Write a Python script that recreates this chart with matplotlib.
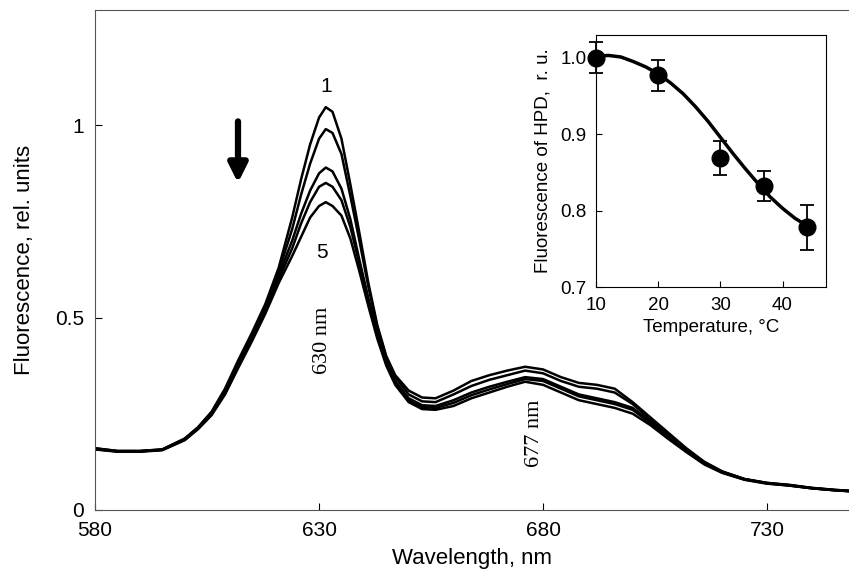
import matplotlib.pyplot as plt
import numpy as np

# emission spectra, 5 temperatures (curve 1 = 10 C ... curve 5 = 44 C)
wl = [580, 585, 590, 595, 600, 603, 606, 609, 612, 615, 618, 621, 624, 626, 628,
      630, 631.5, 633, 635, 637, 639, 641, 643, 645, 647, 650, 653, 656, 660, 664,
      668, 672, 676, 680, 684, 688, 692, 696, 700, 704, 708, 712, 716, 720, 725,
      730, 735, 740, 745, 750]

spec1 = [0.160, 0.153, 0.153, 0.157, 0.185, 0.215, 0.255, 0.315, 0.390, 0.460, 0.535,
         0.630, 0.760, 0.860, 0.950, 1.020, 1.047, 1.035, 0.965, 0.845, 0.720, 0.590,
         0.480, 0.400, 0.350, 0.310, 0.292, 0.290, 0.310, 0.335, 0.350, 0.362, 0.372,
         0.365, 0.345, 0.330, 0.325, 0.315, 0.280, 0.240, 0.200, 0.160, 0.125, 0.100,
         0.080, 0.070, 0.065, 0.057, 0.052, 0.048]
spec2 = [0.160, 0.153, 0.153, 0.157, 0.185, 0.214, 0.253, 0.310, 0.385, 0.455, 0.530,
         0.620, 0.730, 0.820, 0.900, 0.965, 0.990, 0.980, 0.925, 0.815, 0.700, 0.580,
         0.475, 0.395, 0.345, 0.300, 0.282, 0.280, 0.300, 0.322, 0.338, 0.350, 0.362,
         0.355, 0.335, 0.320, 0.315, 0.305, 0.275, 0.235, 0.195, 0.158, 0.123, 0.099,
         0.080, 0.070, 0.064, 0.057, 0.052, 0.048]
spec3 = [0.158, 0.152, 0.152, 0.156, 0.183, 0.212, 0.250, 0.305, 0.378, 0.448, 0.520,
         0.610, 0.700, 0.770, 0.830, 0.875, 0.890, 0.880, 0.835, 0.755, 0.650, 0.550,
         0.460, 0.385, 0.335, 0.290, 0.272, 0.270, 0.285, 0.305, 0.320, 0.333, 0.345,
         0.340, 0.320, 0.300, 0.290, 0.280, 0.265, 0.230, 0.190, 0.155, 0.121, 0.098,
         0.079, 0.069, 0.064, 0.056, 0.051, 0.048]
spec4 = [0.158, 0.152, 0.152, 0.156, 0.182, 0.211, 0.248, 0.302, 0.374, 0.443, 0.515,
         0.600, 0.680, 0.745, 0.800, 0.840, 0.850, 0.840, 0.805, 0.735, 0.640, 0.545,
         0.455, 0.380, 0.330, 0.285, 0.267, 0.265, 0.278, 0.298, 0.313, 0.327, 0.340,
         0.335, 0.315, 0.295, 0.285, 0.275, 0.260, 0.225, 0.187, 0.153, 0.120, 0.097,
         0.079, 0.069, 0.063, 0.056, 0.051, 0.047]
spec5 = [0.157, 0.151, 0.151, 0.155, 0.181, 0.210, 0.246, 0.300, 0.370, 0.438, 0.510,
         0.590, 0.660, 0.710, 0.760, 0.790, 0.800, 0.790, 0.765, 0.705, 0.620, 0.530,
         0.445, 0.375, 0.325, 0.280, 0.262, 0.260, 0.270, 0.290, 0.305, 0.320, 0.333,
         0.325, 0.305, 0.285, 0.275, 0.265, 0.250, 0.220, 0.184, 0.150, 0.118, 0.096,
         0.078, 0.068, 0.063, 0.056, 0.051, 0.047]

# inset: temperature dependence at 630 nm
temp = [10, 20, 30, 37, 44]
fluo = [1.000, 0.977, 0.869, 0.832, 0.778]
fluo_err = [0.020, 0.020, 0.022, 0.020, 0.030]

fit_t = [10, 12, 14, 16, 18, 20, 22, 24, 26, 28, 30, 32, 34, 36, 38, 40, 42, 44]
fit_f = [1.002, 1.003, 1.001, 0.995, 0.988, 0.979, 0.967, 0.953, 0.936, 0.917,
         0.896, 0.875, 0.855, 0.836, 0.818, 0.803, 0.790, 0.780]

plt.rcParams['font.family'] = ['Liberation Sans', 'DejaVu Sans']

fig = plt.figure(figsize=(8.49, 5.8), dpi=100)
ax = fig.add_axes([0.112, 0.121, 0.888, 0.862])

for s in [spec1, spec2, spec3, spec4, spec5]:
    ax.plot(wl, s, color='black', lw=1.8)

ax.set_xlim(580, 748.3)
ax.set_ylim(0, 1.3)
ax.set_xticks([580, 630, 680, 730])
ax.set_yticks([0, 0.5, 1])
ax.set_yticklabels(['0', '0.5', '1'])
ax.tick_params(direction='in', labelsize=15, length=5, pad=8)
ax.spines['right'].set_visible(False)
for sp in ['left', 'bottom', 'top']:
    ax.spines[sp].set_color('#555555')
ax.set_xlabel('Wavelength, nm', fontsize=16, labelpad=6)
ax.set_ylabel('Fluorescence, rel. units', fontsize=16, labelpad=14)

ax.text(631.6, 1.10, '1', fontsize=15, ha='center', va='center')
ax.text(630.7, 0.67, '5', fontsize=15, ha='center', va='center')
ax.text(630.7, 0.44, '630 nm', fontsize=16, family='Liberation Serif',
        rotation=90, ha='center', va='center')
ax.text(678.2, 0.20, '677 nm', fontsize=16, family='Liberation Serif',
        rotation=90, ha='center', va='center')
ax.annotate('', xy=(611.9, 0.85), xytext=(611.9, 1.01),
            arrowprops=dict(arrowstyle='-|>', lw=4.5, mutation_scale=28,
                            color='black', shrinkA=0, shrinkB=0))

# inset
ins = fig.add_axes([0.702, 0.505, 0.271, 0.435])
ins.plot(fit_t, fit_f, color='black', lw=2.5)
ins.errorbar(temp, fluo, yerr=fluo_err, fmt='o', color='black', ms=12,
             capsize=5, elinewidth=1.3, capthick=1.3, clip_on=False, zorder=5)
ins.set_xlim(10, 47)
ins.set_ylim(0.7, 1.03)
ins.set_xticks([10, 20, 30, 40])
ins.set_yticks([0.7, 0.8, 0.9, 1.0])
ins.set_yticklabels(['0.7', '0.8', '0.9', '1.0'])
ins.tick_params(direction='in', labelsize=13.5, length=4, pad=7)
ins.set_xlabel('Temperature, \u00b0C', fontsize=13.5, labelpad=4)
ins.set_ylabel('Fluorescence of HPD,  r. u.', fontsize=13.5, labelpad=6)

plt.savefig('out.png', dpi=100)
